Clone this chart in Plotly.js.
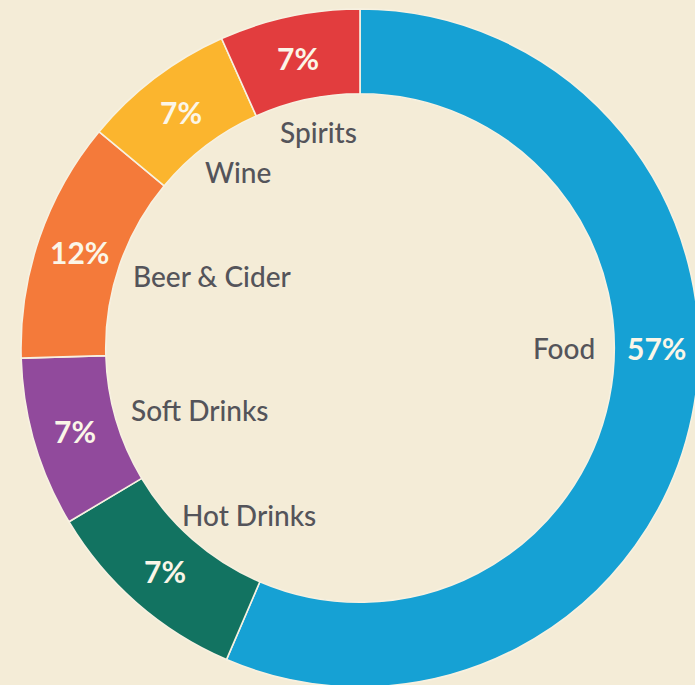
<!DOCTYPE html>
<html>
<head>
<meta charset="utf-8">
<script src="https://cdn.plot.ly/plotly-3.0.1.min.js"></script>
<style>
  html, body { margin: 0; padding: 0; overflow: hidden; background: #f4ecd7; width: 695px; height: 685px; }
  #chart { width: 720px; height: 700px; }
</style>
</head>
<body>
<div id="chart"></div>
<script>
// ---- data ----
const categories = ['Food', 'Hot Drinks', 'Soft Drinks', 'Beer & Cider', 'Wine', 'Spirits'];
const shares = [56.5, 10.0, 8.1, 11.5, 7.3, 6.7];
const pctLabels = ['57%', '7%', '7%', '12%', '7%', '7%'];
const sliceColors = ['#16a1d4', '#127361', '#914a9c', '#f47a3a', '#fbb52e', '#e23d3e'];

// ---- layout geometry ----
const W = 720, H = 700;          // layout size (page crops at 695x685)
const CX = 360, CY = 348, R = 339, HOLE = 0.75;
const RIN = R * HOLE;
const catFont = { family: 'Lato, "Open Sans", sans-serif', size: 28, color: '#54545a', weight: 500 };
const pctFont = { family: 'Lato, "Open Sans", sans-serif', size: 30, color: '#fbf6e8', weight: 700 };

const ctx = document.createElement('canvas').getContext('2d');
function textWidth(t, f) {
  ctx.font = (f.weight || 400) + ' ' + f.size + 'px Lato';
  return ctx.measureText(t).width;
}
const px = x => x / W;
const py = y => 1 - y / H;

const total = shares.reduce((a, b) => a + b, 0);
const annotations = [];
let cum = 0;
shares.forEach((v, i) => {
  const a0 = cum / total * 360;
  cum += v;
  const a1 = cum / total * 360;
  // slice crossing 3 o'clock gets its labels on the horizontal, otherwise mid-angle
  let ang = (a0 <= 90 && a1 >= 90) ? 90 : (a0 + a1) / 2;
  const rad = ang * Math.PI / 180;
  const ux = Math.sin(rad), uy = -Math.cos(rad);

  // percentage label in the ring
  const rm = (R + RIN) / 2;
  annotations.push({
    x: px(CX + rm * ux), y: py(CY + rm * uy), xref: 'paper', yref: 'paper',
    text: pctLabels[i], showarrow: false, xanchor: 'center', yanchor: 'middle',
    font: pctFont
  });

  // category label just inside the hole
  const rl = RIN - 19;
  const w = textWidth(categories[i], catFont);
  const h = catFont.size;
  const cxT = CX + rl * ux - ux * w / 2;
  const cyT = CY + rl * uy - uy * h / 2;
  annotations.push({
    x: px(cxT), y: py(cyT), xref: 'paper', yref: 'paper',
    text: categories[i], showarrow: false, xanchor: 'center', yanchor: 'middle',
    font: catFont
  });
});

const trace = {
  type: 'pie',
  labels: categories,
  values: shares,
  sort: false,
  direction: 'clockwise',
  rotation: 0,
  hole: HOLE,
  textinfo: 'none',
  hoverinfo: 'label+percent',
  marker: { colors: sliceColors, line: { color: '#f7f1e1', width: 1.6 } },
  domain: { x: [(CX - R) / W, (CX + R) / W], y: [1 - (CY + R) / H, 1 - (CY - R) / H] },
  showlegend: false
};

const layout = {
  width: W, height: H,
  margin: { l: 0, r: 0, t: 0, b: 0, pad: 0 },
  paper_bgcolor: '#f4ecd7',
  plot_bgcolor: '#f4ecd7',
  showlegend: false,
  annotations: annotations
};

Plotly.newPlot('chart', [trace], layout, { displayModeBar: false, staticPlot: true });
</script>
</body>
</html>
